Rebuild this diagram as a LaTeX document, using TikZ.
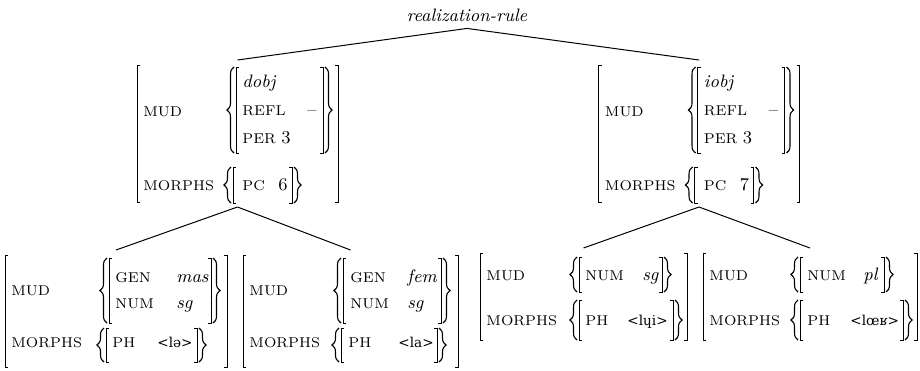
\documentclass[tikz,border=0pt]{standalone}
\usepackage{fontspec}
\newfontfamily\ipafont{DejaVu Serif}
\usetikzlibrary{decorations.pathreplacing,fit}
\newcommand\mylsq[3]{\draw[sq] ({#1+3},#2) -- (#1,#2) -- (#1,#3) -- ({#1+3},#3);}
\newcommand\myrsq[3]{\draw[sq] ({#1-3},#2) -- (#1,#2) -- (#1,#3) -- ({#1-3},#3);}
\newcommand\mylbc[3]{\draw[brc] (#1,#3) -- (#1,#2);}
\newcommand\myrbc[3]{\draw[brc] (#1,#2) -- (#1,#3);}
\newcommand\myfrm[5]{\node[frame, fit={(#2,#3) (#4,#5)}] (#1) {}; \mylsq{#2}{#3}{#5} \myrsq{#4}{#3}{#5}}
\newcommand\topavm[4]{%
\begin{scope}[xshift=#2]
\myfrm{#1}{137}{65}{338}{202}
\node[lab] (#1-mud) at (143,116) {MUD};
\node[lab] (#1-morphs) at (143,190) {MORPHS};
\mylbc{234}{67}{153} \mylsq{236}{67}{153}
\node[itv] (#1-type) at (242,87) {#3};
\node[lab] (#1-refl) at (242,115) {REFL};
\node[rmv, anchor=base] (#1-minus) at (312,115) {\textendash};
\node[lab] (#1-per) at (242,143) {PER \fontsize{9}{10.8}\selectfont 3};
\myrsq{323}{67}{153} \myrbc{325}{67}{153}
\mylbc{231}{167}{203} \mylsq{233}{167}{203}
\node[lab] (#1-pc) at (242,190) {PC};
\node[rmv] (#1-pcv) at (278,190) {#4};
\myrsq{292}{167}{203} \myrbc{294}{167}{203}
\end{scope}}
\begin{document}
\begin{tikzpicture}[x=0.5pt,y=-0.5pt,
  lab/.style={anchor=base west, inner sep=0pt, font=\fontsize{7.1}{8.5}\selectfont},
  itv/.style={anchor=base west, inner sep=0pt, font=\fontsize{9}{10.8}\selectfont\itshape},
  rmv/.style={anchor=base west, inner sep=0pt, font=\fontsize{9}{10.8}\selectfont},
  ipa/.style={anchor=base west, inner sep=0pt, font=\fontsize{6.8}{8}\selectfont\ipafont},
  sq/.style={line width=0.5pt},
  brc/.style={decorate, decoration={brace, amplitude=3.5pt}, line width=0.55pt},
  frame/.style={inner sep=0pt, outer sep=0pt},
  edge/.style={line width=0.5pt}]
\useasboundingbox (0,0) rectangle (920,370);
\node[font=\fontsize{9}{10.8}\selectfont\itshape] (title) at (467,15) {realization-rule};
% top AVMs
\topavm{L}{0pt}{dobj}{6}
\topavm{R}{230.75pt}{iobj}{7}
% bottom left 1
\myfrm{LL}{5}{255}{227}{367}
\node[lab] (LL-mud) at (11,295) {MUD};
\node[lab] (LL-morphs) at (11,347) {MORPHS};
\mylbc{107}{258}{323} \mylsq{109}{258}{323}
\node[lab] (LL-gen) at (115,282) {GEN}; \node[itv] (LL-genv) at (176,282) {mas};
\node[lab] (LL-num) at (115,308) {NUM}; \node[itv] (LL-numv) at (176,308) {sg};
\myrsq{211}{258}{323} \myrbc{213}{258}{323}
\mylbc{104}{328}{362} \mylsq{106}{328}{362}
\node[lab] (LL-ph) at (112,347) {PH}; \node[ipa] (LL-phv) at (157,347) {<lə>};
\myrsq{197}{328}{362} \myrbc{199}{328}{362}
% bottom left 2
\myfrm{LR}{243}{255}{458}{367}
\node[lab] (LR-mud) at (249,295) {MUD};
\node[lab] (LR-morphs) at (249,347) {MORPHS};
\mylbc{341}{258}{323} \mylsq{343}{258}{323}
\node[lab] (LR-gen) at (350,282) {GEN}; \node[itv] (LR-genv) at (407,282) {fem};
\node[lab] (LR-num) at (350,308) {NUM}; \node[itv] (LR-numv) at (407,308) {sg};
\myrsq{441}{258}{323} \myrbc{443}{258}{323}
\mylbc{339}{328}{362} \mylsq{341}{328}{362}
\node[lab] (LR-ph) at (348,347) {PH}; \node[ipa] (LR-phv) at (398,347) {<la>};
\myrsq{437}{328}{362} \myrbc{439}{328}{362}
% bottom right 1
\myfrm{RL}{480}{253}{687}{340}
\node[lab] (RL-mud) at (486,280) {MUD};
\node[lab] (RL-morphs) at (486,325) {MORPHS};
\mylbc{577}{257}{292} \mylsq{579}{257}{292}
\node[lab] (RL-num) at (585,280) {NUM}; \node[itv] (RL-numv) at (642,280) {sg};
\myrsq{662}{257}{292} \myrbc{664}{257}{292}
\mylbc{577}{300}{340} \mylsq{579}{300}{340}
\node[lab] (RL-ph) at (585,325) {PH}; \node[ipa] (RL-phv) at (627,325) {<lɥi>};
\myrsq{673}{300}{340} \myrbc{675}{300}{340}
% bottom right 2
\myfrm{RR}{703}{253}{917}{340}
\node[lab] (RR-mud) at (709,280) {MUD};
\node[lab] (RR-morphs) at (709,325) {MORPHS};
\mylbc{798}{257}{292} \mylsq{800}{257}{292}
\node[lab] (RR-num) at (807,280) {NUM}; \node[itv] (RR-numv) at (863,280) {pl};
\myrsq{884}{257}{292} \myrbc{886}{257}{292}
\mylbc{798}{300}{340} \mylsq{800}{300}{340}
\node[lab] (RR-ph) at (807,325) {PH}; \node[ipa] (RR-phv) at (850,325) {<lœʁ>};
\myrsq{903}{300}{340} \myrbc{905}{300}{340}
% tree edges
\draw[edge] (title.south) -- ([yshift=2.5pt]L.north);
\draw[edge] (title.south) -- ([yshift=2.5pt]R.north);
\draw[edge] ([yshift=-2.5pt]L.south) -- ([yshift=2.5pt]LL.north);
\draw[edge] ([yshift=-2.5pt]L.south) -- ([yshift=2.5pt]LR.north);
\draw[edge] ([yshift=-2.5pt]R.south) -- ([yshift=2.5pt]RL.north);
\draw[edge] ([yshift=-2.5pt]R.south) -- ([yshift=2.5pt]RR.north);
\end{tikzpicture}
\end{document}
